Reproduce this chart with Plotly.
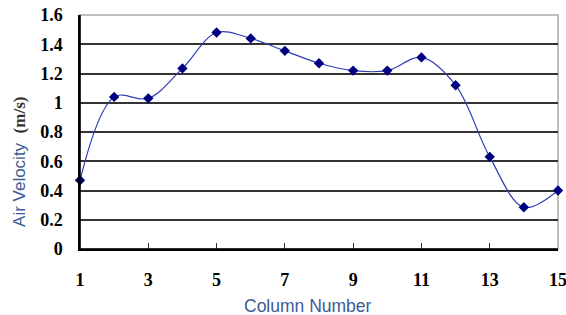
import plotly.graph_objects as go

columns = list(range(1, 16))
air_velocity = [0.47, 1.04, 1.03, 1.235, 1.48, 1.44, 1.355, 1.27, 1.22, 1.22, 1.31, 1.12, 0.63, 0.285, 0.40]
y_ticks = [0, 0.2, 0.4, 0.6, 0.8, 1.0, 1.2, 1.4, 1.6]
y_tick_labels = ["0", "0.2", "0.4", "0.6", "0.8", "1", "1.2", "1.4", "1.6"]
x_ticks = [1, 3, 5, 7, 9, 11, 13, 15]
x_title = "Column Number"
y_title = "Air Velocity  <span style='font-family:Liberation Serif;font-weight:bold;color:#333'>(m/s)</span>"

fig = go.Figure()
fig.add_trace(go.Scatter(
    x=columns, y=air_velocity, mode="lines+markers",
    line=dict(color="#2f3fb0", width=1.2, shape="spline", smoothing=1.0),
    marker=dict(symbol="diamond", size=8, color="#000080"),
    showlegend=False, cliponaxis=False,
))

fig.update_layout(
    width=566, height=315,
    margin=dict(l=80, r=8, t=15, b=66),
    paper_bgcolor="white", plot_bgcolor="white",
    xaxis=dict(
        range=[1, 15.0001], tickvals=x_ticks, ticks="inside", ticklen=6, tickcolor="#333",
        showgrid=False, zeroline=False, showline=True, linecolor="black", linewidth=1.5,
        mirror=False, automargin=False, ticklabeloverflow="allow",
        tickfont=dict(family="Liberation Serif", size=18, color="black", weight="bold"),
        ticklabelstandoff=14,
    ),
    yaxis=dict(
        range=[0, 1.6], tickvals=y_ticks, ticktext=y_tick_labels, ticks="",
        showgrid=True, gridcolor="#333", gridwidth=1.5, automargin=False,
        zeroline=False, showline=True, linecolor="black", linewidth=1.5,
        tickfont=dict(family="Liberation Serif", size=18, color="black", weight="bold"),
        ticklabelstandoff=12,
    ),
    annotations=[
        dict(text=x_title, xref="paper", yref="paper", x=0.477, y=-0.2436,
             xanchor="center", yanchor="middle", showarrow=False,
             font=dict(family="Liberation Sans", size=17.5, color="#3d5a98")),
        dict(text=y_title, xref="paper", yref="paper", x=-0.1255, y=0.372,
             xanchor="center", yanchor="middle", showarrow=False, textangle=-90,
             font=dict(family="Liberation Sans", size=17, color="#3d5a98")),
    ],
)
# gray top/right border
fig.add_shape(type="rect", xref="paper", yref="paper", x0=0, y0=0, x1=1, y1=1,
              line=dict(color="#aaaaaa", width=1.5), layer="below")
fig.add_shape(type="line", xref="paper", yref="paper", x0=0, y0=0, x1=0, y1=1, line=dict(color="black", width=1.5))
fig.add_shape(type="line", xref="paper", yref="paper", x0=0, y0=0, x1=1, y1=0, line=dict(color="black", width=1.5))

fig.write_html("out.html", config={"displayModeBar": False},
               post_script="document.body.style.margin='0';")
